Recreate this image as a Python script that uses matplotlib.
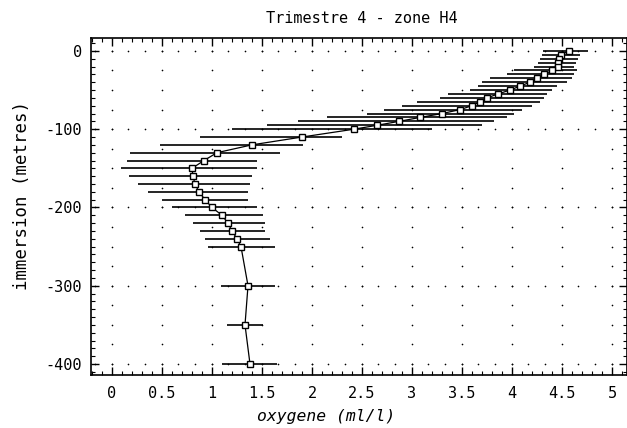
import numpy as np
import matplotlib
matplotlib.use("Agg")
import matplotlib.pyplot as plt
from matplotlib.ticker import MultipleLocator

# depth (m, positive down) and oxygen (ml/l)
DEPTH = [0, 5, 10, 15, 20, 25, 30, 35, 40, 45, 50, 55, 60, 65, 70, 75, 80,
         85, 90, 95, 100, 110, 120, 130, 140, 150, 160, 170, 180, 190, 200,
         210, 220, 230, 240, 250, 300, 350, 400]
OXY = [4.57, 4.49, 4.47, 4.46, 4.46, 4.40, 4.32, 4.25, 4.18, 4.08, 3.98,
       3.86, 3.75, 3.68, 3.60, 3.48, 3.30, 3.08, 2.87, 2.65, 2.42, 1.90,
       1.40, 1.05, 0.92, 0.80, 0.81, 0.83, 0.87, 0.93, 1.00, 1.10, 1.16,
       1.20, 1.25, 1.29, 1.36, 1.33, 1.38]
# left / right ends of the horizontal bars
OXY_LO = [4.31, 4.30, 4.28, 4.26, 4.22, 4.02, 3.95, 3.78, 3.70, 3.66, 3.58,
          3.36, 3.28, 3.05, 2.90, 2.72, 2.55, 2.15, 1.86, 1.55, 1.20, 0.88,
          0.48, 0.18, 0.15, 0.09, 0.17, 0.26, 0.36, 0.50, 0.60, 0.73, 0.81,
          0.88, 0.93, 0.96, 1.09, 1.15, 1.10]
OXY_HI = [4.76, 4.68, 4.66, 4.64, 4.62, 4.65, 4.62, 4.60, 4.55, 4.45, 4.40,
          4.35, 4.32, 4.28, 4.20, 4.10, 4.02, 3.95, 3.82, 3.70, 3.20, 2.30,
          1.91, 1.68, 1.45, 1.45, 1.40, 1.38, 1.36, 1.36, 1.45, 1.51, 1.53,
          1.53, 1.58, 1.63, 1.63, 1.51, 1.65]

FONT = "DejaVu Sans Mono"
plt.rcParams["axes.unicode_minus"] = False
plt.rcParams["font.family"] = FONT

x = np.array(OXY)
y = -np.array(DEPTH, dtype=float)
xerr = [x - np.array(OXY_LO), np.array(OXY_HI) - x]

fig = plt.figure(figsize=(6.27, 4.28), dpi=100)
W, H = 627, 428
ax = fig.add_axes([91 / W, 1 - 375 / H, (627 - 91) / W, (375 - 38) / H])
ax.set_xlim(-0.21, 5.15)
ax.set_ylim(-414, 16.5)

# dotted grid (plotter style)
gx = np.arange(0, 5.01, 0.5)
gy = np.arange(-400, 1, 25)
X, Y = np.meshgrid(gx, gy)
ax.plot(X.ravel(), Y.ravel(), ".", color="black", ms=2.4, mew=0, zorder=1)
hx = np.arange(-0.17, 5.15, 1 / 6)
for yy in range(-400, 1, 100):
    ax.plot(hx, np.full_like(hx, yy), ".", color="black", ms=2.4, mew=0,
            zorder=1)

ax.errorbar(x, y, xerr=xerr, fmt="none", ecolor="black", elinewidth=1.2,
            capsize=0, zorder=3)
ax.plot(x, y, "-", color="black", lw=0.9, zorder=4)
ax.plot(x, y, "s", mfc="white", mec="black", mew=1.0, ms=4.4, zorder=5)

ax.xaxis.set_major_locator(MultipleLocator(0.5))
ax.xaxis.set_minor_locator(MultipleLocator(0.1))
ax.yaxis.set_major_locator(MultipleLocator(100))
ax.yaxis.set_minor_locator(MultipleLocator(10))
ax.set_xticks(gx)
ax.set_xticklabels([f"{v:g}" for v in gx])
ax.tick_params(which="both", direction="in", top=True, right=True,
               labelsize=11, color="black")
ax.tick_params(which="major", length=6, width=1.0)
ax.tick_params(axis="x", which="major", pad=8)
ax.tick_params(axis="y", which="major", pad=6.5)
ax.tick_params(which="minor", length=3, width=0.8)
for s in ax.spines.values():
    s.set_linewidth(1.2)

ax.set_title("Trimestre 4 - zone H4", fontsize=11, x=0.506, y=1.0, pad=11)
ax.set_xlabel("oxygene (ml/l)", fontsize=11.8, style="italic")
ax.xaxis.set_label_coords(0.438, -0.102)
ax.set_ylabel("immersion (metres)", fontsize=12.5)
ax.yaxis.set_label_coords(-0.112, 0.534)

fig.savefig("out.png", dpi=100)
